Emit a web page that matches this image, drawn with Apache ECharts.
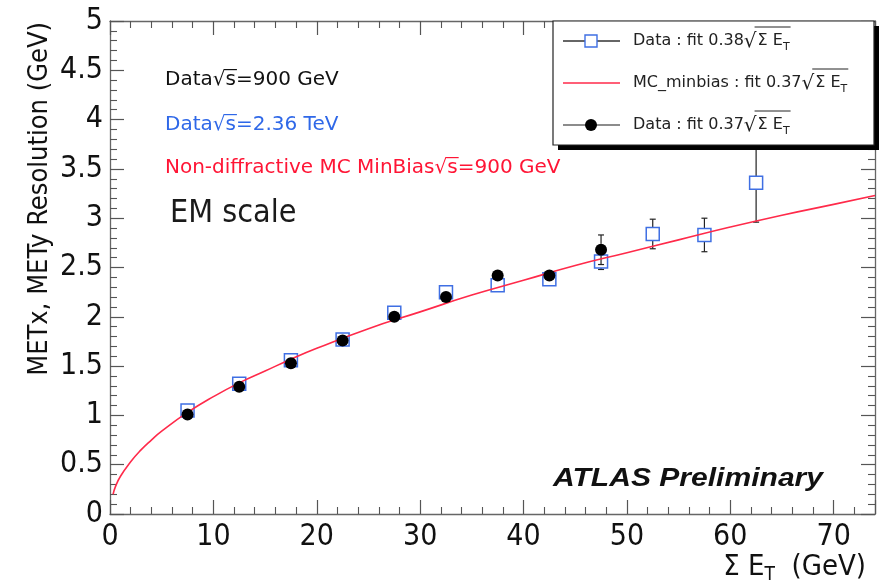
<!DOCTYPE html>
<html><head><meta charset="utf-8">
<script src="https://cdn.jsdelivr.net/npm/echarts/dist/echarts.min.js"></script>
<style>html,body{margin:0;padding:0;background:#fff}#c{width:881px;height:584px}</style>
</head><body><div id="c"></div>
<script>
// ---- data ----
const bins236 = [7.5, 12.5, 17.5, 22.5, 27.5, 32.5, 37.5, 42.5, 47.5, 52.5, 57.5, 62.5];
const res236  = [1.05, 1.32, 1.56, 1.77, 2.04, 2.25, 2.32, 2.38, 2.56, 2.84, 2.83, 3.36];
const err236  = [0.03, 0.03, 0.03, 0.03, 0.04, 0.04, 0.05, 0.06, 0.08, 0.15, 0.17, 0.40];
const bins900 = [7.5, 12.5, 17.5, 22.5, 27.5, 32.5, 37.5, 42.5, 47.5];
const res900  = [1.01, 1.29, 1.53, 1.76, 2.00, 2.20, 2.42, 2.42, 2.68];
const err900  = [0.02, 0.02, 0.03, 0.03, 0.03, 0.04, 0.05, 0.06, 0.15];
const fitX = [0.3, 0.5, 1, 2, 3, 4, 5, 7.5, 10, 12.5, 15, 17.5, 20, 25, 30, 35, 40, 45, 50, 55, 60, 65, 70, 74];
const fitY = [0.20, 0.27, 0.38, 0.53, 0.65, 0.75, 0.84, 1.03, 1.19, 1.33, 1.45, 1.57, 1.68, 1.88, 2.05, 2.22, 2.37, 2.52, 2.65, 2.78, 2.91, 3.03, 3.14, 3.23];
const xTicks = {min: 0, max: 74, interval: 10};
const yTicks = {min: 0, max: 5, interval: 0.5};
const legendTexts = ['Data : fit 0.38', 'MC_minbias : fit 0.37', 'Data : fit 0.37'];

// ---- styling ----
const BLUE = '#3f6fe3', RED = '#ff2a4a', FRAME = '#666';
const NARROW = "'Liberation Sans Narrow', 'DejaVu Sans Condensed', sans-serif";
const DV = "'DejaVu Sans', sans-serif";
const mctx = document.createElement('canvas').getContext('2d');
function tw(s, size, fam, weight) { mctx.font = (weight || 'normal') + ' ' + size + 'px ' + fam; return mctx.measureText(s).width; }

const chart = echarts.init(document.getElementById('c'), null, {renderer: 'canvas'});

function errRender(half) {
  return function (params, api) {
    const x = api.value(0), y = api.value(1), e = api.value(2);
    const c = api.coord([x, y]), hi = api.coord([x, y + e]), lo = api.coord([x, y - e]);
    const ch = [];
    const st = {stroke: '#222', lineWidth: 1.2};
    if (hi[1] < c[1] - half) ch.push({type: 'line', shape: {x1: c[0], y1: c[1] - half, x2: c[0], y2: hi[1]}, style: st});
    if (lo[1] > c[1] + half) ch.push({type: 'line', shape: {x1: c[0], y1: c[1] + half, x2: c[0], y2: lo[1]}, style: st});
    if (hi[1] < c[1] - half) ch.push({type: 'line', shape: {x1: c[0] - 3, y1: hi[1], x2: c[0] + 3, y2: hi[1]}, style: st});
    if (lo[1] > c[1] + half) ch.push({type: 'line', shape: {x1: c[0] - 3, y1: lo[1], x2: c[0] + 3, y2: lo[1]}, style: st});
    return {type: 'group', children: ch};
  };
}

function axisCommon(pos, showLabel) {
  return {
    type: 'value', position: pos, scale: false,
    axisLine: {show: true, onZero: false, lineStyle: {color: FRAME, width: 1.3}},
    axisTick: {show: true, inside: true, length: 14, lineStyle: {color: '#555', width: 1.2}},
    minorTick: {show: true, splitNumber: 5, length: 7, lineStyle: {color: '#555', width: 1.1}},
    splitLine: {show: false},
    axisLabel: {show: showLabel, fontFamily: NARROW, fontSize: 30, color: '#111', showMaxLabel: false, showMinLabel: true}
  };
}

const xa1 = Object.assign(axisCommon('bottom', true), xTicks); xa1.axisLabel.margin = 8;
xa1.axisLabel.formatter = v => (v % 10 === 0 ? String(v) : '');
const xa2 = Object.assign(axisCommon('top', false), xTicks);
const ya1 = Object.assign(axisCommon('left', true), yTicks); ya1.axisLabel.margin = 7;
ya1.axisLabel.showMaxLabel = true;
ya1.axisLabel.formatter = v => String(+v.toFixed(1));
const ya2 = Object.assign(axisCommon('right', false), yTicks);

// ---- annotation graphics ----
const g = [];
function rootText(x, y, pre, post, size, color) {
  g.push({type: 'text', x: x, y: y, z: 50, style: {text: pre + '√s' + post, fontFamily: DV, fontSize: size, fill: color, verticalAlign: 'middle'}});
  const a = x + tw(pre + '√', size, DV) - 1, b = x + tw(pre + '√s', size, DV) + 1;
  g.push({type: 'line', z: 50, shape: {x1: a, y1: y - size * 0.52, x2: b, y2: y - size * 0.52}, style: {stroke: color, lineWidth: 1.2}});
}
rootText(165, 80, 'Data', '=900 GeV', 20, '#111');
rootText(165, 125, 'Data', '=2.36 TeV', 20, '#2f68e8');
rootText(165, 168, 'Non-diffractive MC MinBias', '=900 GeV', 20, '#ff1535');
g.push({type: 'text', x: 170, y: 214, z: 50, style: {text: 'EM scale', fontFamily: NARROW, fontSize: 32, fill: '#1a1a1a', verticalAlign: 'middle'}});
(function () {
  const fs = 26, fam = "'Liberation Sans', Arial, sans-serif";
  const w = tw('ATLAS Preliminary', fs, fam, 'italic bold');
  g.push({type: 'text', x: 553, y: 479, z: 50, scaleX: 270 / w, style: {text: 'ATLAS Preliminary', fontFamily: fam, fontSize: fs, fontWeight: 'bold', fontStyle: 'italic', fill: '#111', verticalAlign: 'middle'}});
})();

// axis titles
g.push({type: 'text', x: 40, y: 22, rotation: Math.PI / 2, z: 50, style: {text: 'METx, METy Resolution (GeV)', fontFamily: NARROW, fontSize: 27, fill: '#111', align: 'right', verticalAlign: 'middle'}});
(function () {
  const y = 567, right = 866, fs = 29, sub = 19;
  const w1 = tw('Σ E', fs, NARROW), w2 = tw('T', sub, NARROW), w3 = tw('  (GeV)', fs, NARROW);
  const x0 = right - (w1 + w2 + w3);
  g.push({type: 'text', x: x0, y: y, z: 50, style: {text: 'Σ E', fontFamily: NARROW, fontSize: fs, fill: '#111', verticalAlign: 'middle'}});
  g.push({type: 'text', x: x0 + w1, y: y + 8, z: 50, style: {text: 'T', fontFamily: NARROW, fontSize: sub, fill: '#111', verticalAlign: 'middle'}});
  g.push({type: 'text', x: x0 + w1 + w2, y: y, z: 50, style: {text: '  (GeV)', fontFamily: NARROW, fontSize: fs, fill: '#111', verticalAlign: 'middle'}});
})();

// legend box
g.push({type: 'rect', z: 98, shape: {x: 558, y: 26, width: 321, height: 124}, style: {fill: '#000'}});
g.push({type: 'rect', z: 99, shape: {x: 553, y: 21, width: 321, height: 124}, style: {fill: '#fff', stroke: '#222', lineWidth: 1.2}});
const rows = [41, 83, 125];
g.push({type: 'line', z: 100, shape: {x1: 563, y1: rows[0], x2: 620, y2: rows[0]}, style: {stroke: '#333', lineWidth: 1.3}});
g.push({type: 'rect', z: 101, shape: {x: 585, y: rows[0] - 6, width: 12, height: 12}, style: {fill: '#fff', stroke: BLUE, lineWidth: 1.4}});
g.push({type: 'line', z: 100, shape: {x1: 563, y1: rows[1], x2: 620, y2: rows[1]}, style: {stroke: RED, lineWidth: 1.6}});
g.push({type: 'line', z: 100, shape: {x1: 563, y1: rows[2], x2: 620, y2: rows[2]}, style: {stroke: '#666', lineWidth: 1.3}});
g.push({type: 'circle', z: 101, shape: {cx: 591, cy: rows[2], r: 6}, style: {fill: '#000'}});
legendTexts.forEach((t, i) => {
  const y = rows[i], x0 = 633, fs = 16;
  const w = tw(t, fs, DV);
  const rw = tw('√', 20, DV), sw = tw('Σ E', fs, DV), subw = tw('T', 11, DV);
  g.push({type: 'text', x: x0, y: y, z: 102, style: {text: t, fontFamily: DV, fontSize: fs, fill: '#222', verticalAlign: 'middle'}});
  g.push({type: 'text', x: x0 + w, y: y + 1, z: 102, style: {text: '√', fontFamily: DV, fontSize: 20, fill: '#222', verticalAlign: 'middle'}});
  g.push({type: 'text', x: x0 + w + rw + 1, y: y, z: 102, style: {text: 'Σ E', fontFamily: DV, fontSize: fs, fill: '#222', verticalAlign: 'middle'}});
  g.push({type: 'text', x: x0 + w + rw + 1 + sw, y: y + 6, z: 102, style: {text: 'T', fontFamily: DV, fontSize: 11, fill: '#222', verticalAlign: 'middle'}});
  g.push({type: 'line', z: 102, shape: {x1: x0 + w + rw - 2, y1: y - 14, x2: x0 + w + rw + 2 + sw + subw, y2: y - 14}, style: {stroke: '#222', lineWidth: 1}});
});

chart.setOption({
  animation: false,
  backgroundColor: '#fff',
  grid: {left: 110, right: 6, top: 21, bottom: 70, containLabel: false, outerBoundsMode: 'none'},
  xAxis: [xa1, xa2],
  yAxis: [ya1, ya2],
  series: [
    {type: 'custom', xAxisIndex: 0, yAxisIndex: 0, z: 2, renderItem: errRender(6.5), data: bins236.map((x, i) => [x, res236[i], err236[i]])},
    {type: 'custom', xAxisIndex: 0, yAxisIndex: 0, z: 2, renderItem: errRender(6), data: bins900.map((x, i) => [x, res900[i], err900[i]])},
    {type: 'scatter', name: 'Data 2.36 TeV', z: 3, symbol: 'rect', symbolSize: 13,
      itemStyle: {color: 'rgba(255,255,255,0)', borderColor: BLUE, borderWidth: 1.5, opacity: 1},
      data: bins236.map((x, i) => [x, res236[i]])},
    {type: 'line', name: 'MC fit', z: 4, smooth: true, showSymbol: false, symbol: 'none',
      lineStyle: {color: RED, width: 1.6}, data: fitX.map((x, i) => [x, fitY[i]])},
    {type: 'scatter', name: 'Data 900 GeV', z: 5, symbol: 'circle', symbolSize: 12,
      itemStyle: {color: '#000', opacity: 1}, data: bins900.map((x, i) => [x, res900[i]])}
  ],
  graphic: g
});
</script></body></html>
